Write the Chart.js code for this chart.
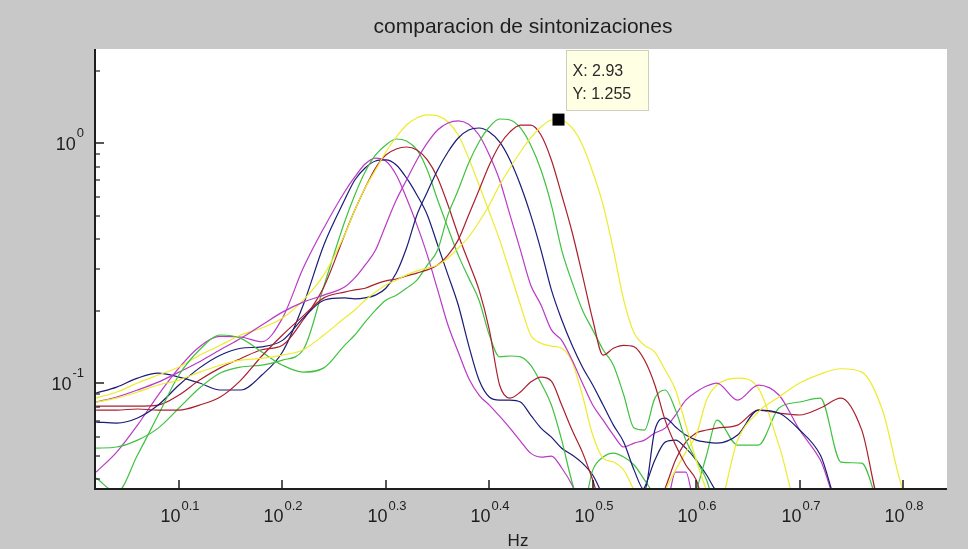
<!DOCTYPE html>
<html>
<head>
<meta charset="utf-8">
<title>comparacion de sintonizaciones</title>
<script src="https://cdn.jsdelivr.net/npm/chart.js@4.4.1/dist/chart.umd.min.js"></script>
<style>
  html, body { margin: 0; padding: 0; background: #c8c8c8; }
  #wrap { width: 968px; height: 549px; }
</style>
</head>
<body>
<div id="wrap"><canvas id="plot" width="968" height="549"></canvas></div>
<script>
// Frequency grid (Hz) shared by every response curve
const freqHz = [1.047,1.096,1.148,1.202,1.259,1.318,1.380,1.445,1.514,1.585,1.660,1.738,
  1.820,1.862,1.905,1.950,1.995,2.042,2.089,2.138,2.188,2.239,2.291,2.344,2.399,2.455,2.512,2.570,2.630,2.692,2.754,2.818,2.884,2.951,3.020,3.090,3.162,3.236,3.311,3.388,3.467,3.548,3.631,3.715,3.802,3.890,3.981,4.074,4.169,
  4.365,4.571,4.786,5.012,5.248,5.495,5.754,6.026,6.310,6.607,6.918];

// Response magnitude of each tuning (values under 0.0363 fall below the axis)
const magenta1 = [0.0427,0.0517,0.067,0.0894,0.116,0.142,0.157,0.156,0.149,0.187,0.302,0.444,
  0.627,0.724,0.82,0.868,0.844,0.738,0.592,0.457,0.342,0.245,0.175,0.135,0.105,0.0894,0.0812,0.073,0.0651,0.0575,0.0512,0.0493,0.0498,0.0444,0.0377,0.03,0.03,0.03,0.03,0.03,0.03,0.03,0.03,0.03,0.0427,0.0427,0.03,0.03,0.03,
  0.03,0.03,0.03,0.03,0.03,0.03,0.03,0.03,0.03,0.03,0.03];
const blue1 = [0.0911,0.0965,0.1052,0.1104,0.1062,0.1003,0.0938,0.0938,0.1083,0.135,0.212,0.377,
  0.58,0.703,0.789,0.844,0.852,0.812,0.717,0.609,0.503,0.377,0.283,0.212,0.144,0.1032,0.0877,0.0852,0.0852,0.0836,0.0738,0.0651,0.0597,0.0537,0.0503,0.0465,0.0415,0.0342,0.03,0.03,0.033,0.0368,0.0479,0.0569,0.058,0.0537,0.0479,0.0415,0.0352,
  0.03,0.03,0.03,0.03,0.03,0.03,0.03,0.03,0.03,0.03,0.03];
const green1 = [0.0537,0.0543,0.058,0.0651,0.0789,0.0956,0.1104,0.117,0.119,0.125,0.138,0.254,
  0.47,0.609,0.759,0.894,0.984,1.042,1.022,0.938,0.774,0.58,0.444,0.342,0.275,0.222,0.159,0.129,0.13,0.129,0.119,0.1003,0.0812,0.058,0.0388,0.03,0.0435,0.0493,0.0512,0.0493,0.0457,0.0396,0.0342,0.03,0.03,0.03,0.0359,0.0503,0.0703,
  0.0553,0.0553,0.0789,0.0836,0.0868,0.047,0.0465,0.03,0.03,0.03,0.03];
const red1 = [0.0804,0.0804,0.0804,0.0812,0.0894,0.1032,0.116,0.127,0.138,0.144,0.184,0.252,
  0.415,0.527,0.651,0.789,0.894,0.947,0.965,0.938,0.852,0.717,0.553,0.415,0.32,0.245,0.167,0.0984,0.0868,0.092,0.1012,0.1062,0.1022,0.0812,0.0639,0.0517,0.0396,0.03,0.03,0.03,0.03,0.03,0.03,0.0366,0.0479,0.0569,0.0621,0.0639,0.0651,
  0.067,0.0774,0.0752,0.0738,0.0789,0.0868,0.064,0.03,0.03,0.03,0.03];
const yellow1 = [0.0868,0.092,0.1003,0.1083,0.117,0.131,0.144,0.159,0.17,0.187,0.222,0.283,
  0.415,0.527,0.651,0.774,0.92,1.062,1.192,1.275,1.312,1.30,1.227,1.083,0.868,0.67,0.517,0.396,0.291,0.212,0.159,0.147,0.143,0.14,0.123,0.0894,0.0609,0.0488,0.047,0.0435,0.0359,0.03,0.03,0.0359,0.0435,0.0517,0.0609,0.0852,0.0984,
  0.1052,0.0956,0.0553,0.03,0.03,0.03,0.03,0.03,0.03,0.03,0.03];
const magenta2 = [0.0836,0.0877,0.0938,0.1012,0.1114,0.123,0.138,0.154,0.175,0.198,0.218,0.233,
  0.252,0.275,0.311,0.359,0.457,0.58,0.703,0.852,1.003,1.136,1.215,1.24,1.20,1.083,0.894,0.703,0.503,0.359,0.257,0.212,0.167,0.151,0.125,0.1003,0.0812,0.0703,0.0609,0.0543,0.0564,0.058,0.0621,0.0651,0.0738,0.0852,0.092,0.0975,0.1003,
  0.0852,0.0984,0.0894,0.0639,0.0479,0.03,0.03,0.03,0.03,0.03,0.03];
const blue2 = [0.069,0.0683,0.0717,0.0812,0.0984,0.116,0.131,0.14,0.142,0.151,0.187,0.222,
  0.227,0.225,0.227,0.233,0.249,0.288,0.366,0.503,0.627,0.774,0.92,1.052,1.136,1.158,1.115,1.013,0.852,0.67,0.503,0.359,0.245,0.184,0.144,0.117,0.0984,0.0812,0.067,0.0569,0.0435,0.0359,0.0639,0.0717,0.0658,0.0609,0.058,0.0569,0.0564,
  0.0609,0.0774,0.0752,0.0639,0.0503,0.03,0.03,0.03,0.03,0.03,0.03];
const green2 = [0.0403,0.0352,0.0503,0.0738,0.1083,0.138,0.159,0.154,0.135,0.119,0.1114,0.116,
  0.144,0.159,0.18,0.202,0.222,0.233,0.249,0.269,0.311,0.359,0.503,0.639,0.828,1.013,1.169,1.262,1.25,1.158,0.984,0.774,0.553,0.359,0.264,0.202,0.167,0.138,0.119,0.0894,0.0651,0.0639,0.0868,0.0938,0.0774,0.058,0.0479,0.0396,0.03,
  0.03,0.03,0.03,0.03,0.03,0.03,0.03,0.03,0.03,0.03,0.03];
const red2 = [0.0774,0.0774,0.0782,0.0774,0.0774,0.0812,0.0877,0.1032,0.13,0.159,0.191,0.227,
  0.24,0.245,0.249,0.259,0.267,0.272,0.28,0.288,0.297,0.311,0.342,0.396,0.503,0.639,0.812,0.984,1.115,1.19,1.19,1.083,0.852,0.609,0.427,0.283,0.184,0.131,0.14,0.144,0.142,0.125,0.0984,0.0703,0.0553,0.0457,0.0396,0.03,0.03,
  0.03,0.03,0.03,0.03,0.03,0.03,0.03,0.03,0.03,0.03,0.03];
const yellow2 = [0.0836,0.0868,0.092,0.0984,0.1032,0.1114,0.119,0.125,0.127,0.131,0.138,0.159,
  0.187,0.202,0.222,0.24,0.257,0.269,0.283,0.294,0.302,0.311,0.333,0.366,0.407,0.47,0.553,0.67,0.789,0.92,1.052,1.169,1.25,1.25,1.158,0.984,0.759,0.553,0.359,0.222,0.162,0.144,0.135,0.1136,0.0938,0.067,0.0479,0.0359,0.03,
  0.058,0.076,0.0877,0.1003,0.1093,0.115,0.1114,0.0774,0.0359,0.03,0.03];

// Data cursor on the yellow curve
const tipX = 2.93;
const tipY = 1.255;

// Axis ticks
const xTickExponents = ['0.1', '0.2', '0.3', '0.4', '0.5', '0.6', '0.7', '0.8'];
const yMajorTicks = [0.1, 1];
const yMajorExponents = ['-1', '0'];
const yMinorTicks = [0.04, 0.05, 0.06, 0.07, 0.08, 0.09, 0.2, 0.3, 0.4, 0.5, 0.6, 0.7, 0.8, 0.9, 2];

const titleText = 'comparacion de sintonizaciones';
const xLabelText = 'Hz';

const COLORS = {
  magenta: '#b93ac6',
  blue: '#1b1b78',
  green: '#3fc23f',
  red: '#aa1f2d',
  yellow: '#ecec2c'
};
const FONT = '"Liberation Sans", Arial, Helvetica, sans-serif';

function toPoints(values) {
  return values.map((v, i) => ({ x: freqHz[i], y: v }));
}

const yellow2Points = toPoints(yellow2);
yellow2Points.push({ x: tipX, y: tipY });
yellow2Points.sort((a, b) => a.x - b.x);

function curve(points, color) {
  return {
    data: points,
    borderColor: color,
    backgroundColor: color,
    borderWidth: 1.2,
    pointRadius: 0,
    fill: false,
    cubicInterpolationMode: 'monotone'
  };
}

function drawPower(ctx, exp, x, baseline, align, supRise) {
  ctx.font = '18px ' + FONT;
  const wb = ctx.measureText('10').width;
  ctx.font = '13px ' + FONT;
  const ws = ctx.measureText(exp).width;
  const total = wb + 1 + ws;
  const left = align === 'center' ? x - total / 2 : x - total;
  ctx.textAlign = 'left';
  ctx.textBaseline = 'alphabetic';
  ctx.font = '18px ' + FONT;
  ctx.fillText('10', left, baseline);
  ctx.font = '13px ' + FONT;
  ctx.fillText(exp, left + wb + 1, baseline - supRise);
}

const figurePlugin = {
  id: 'figure',
  beforeDraw(chart) {
    const { ctx, chartArea: a, width, height } = chart;
    ctx.save();
    ctx.fillStyle = '#c8c8c8';
    ctx.fillRect(0, 0, width, height);
    ctx.fillStyle = '#ffffff';
    ctx.fillRect(a.left, a.top, a.right - a.left, a.bottom - a.top);
    ctx.restore();
  },
  afterDraw(chart) {
    const { ctx, chartArea: a } = chart;
    const xs = chart.scales.x, ys = chart.scales.y;
    ctx.save();
    ctx.fillStyle = '#1e1e1e';
    ctx.strokeStyle = '#1e1e1e';

    // axis lines (left and bottom only)
    ctx.lineWidth = 2;
    ctx.beginPath();
    ctx.moveTo(a.left, a.top);
    ctx.lineTo(a.left, a.bottom);
    ctx.lineTo(a.right, a.bottom);
    ctx.stroke();

    // x ticks and labels
    ctx.lineWidth = 1.5;
    xTickExponents.forEach(e => {
      const px = Math.round(xs.getPixelForValue(Math.pow(10, parseFloat(e))));
      ctx.beginPath();
      ctx.moveTo(px, a.bottom);
      ctx.lineTo(px, a.bottom - 9);
      ctx.stroke();
      drawPower(ctx, e, px + 1, 522, 'center', 12);
    });

    // y ticks and labels
    yMajorTicks.forEach((v, i) => {
      const py = Math.round(ys.getPixelForValue(v));
      ctx.beginPath();
      ctx.moveTo(a.left, py);
      ctx.lineTo(a.left + 9, py);
      ctx.stroke();
      drawPower(ctx, yMajorExponents[i], 84, py + 7, 'right', 13);
    });
    ctx.lineWidth = 1.2;
    yMinorTicks.forEach(v => {
      const py = Math.round(ys.getPixelForValue(v));
      ctx.beginPath();
      ctx.moveTo(a.left, py);
      ctx.lineTo(a.left + 5, py);
      ctx.stroke();
    });

    // title and axis label
    const cx = (a.left + a.right) / 2;
    ctx.textAlign = 'center';
    ctx.textBaseline = 'alphabetic';
    ctx.font = '21px ' + FONT;
    ctx.fillText(titleText, cx + 2, 33);
    ctx.font = '17px ' + FONT;
    ctx.fillText(xLabelText, cx - 3, 546);

    // data cursor box
    const mx = xs.getPixelForValue(tipX);
    const my = ys.getPixelForValue(tipY);
    const bx = Math.round(mx + 8) + 0.5, by = Math.round(my - 70) + 0.5;
    ctx.fillStyle = '#ffffe3';
    ctx.fillRect(bx, by, 82, 60);
    ctx.strokeStyle = '#cfcfbf';
    ctx.lineWidth = 1;
    ctx.strokeRect(bx, by, 82, 60);
    ctx.fillStyle = '#2a2a2a';
    ctx.textAlign = 'left';
    ctx.font = '16px ' + FONT;
    ctx.fillText('X: ' + tipX, bx + 6, by + 25);
    ctx.fillText('Y: ' + tipY, bx + 6, by + 48);
    ctx.restore();
  }
};

new Chart(document.getElementById('plot').getContext('2d'), {
  type: 'line',
  data: {
    datasets: [
      {
        data: [{ x: tipX, y: tipY }],
        showLine: false,
        pointStyle: 'rect',
        pointRadius: 8.5,
        pointBackgroundColor: '#000000',
        pointBorderColor: '#000000',
        pointBorderWidth: 0
      },
      curve(yellow2Points, COLORS.yellow),
      curve(toPoints(red2), COLORS.red),
      curve(toPoints(green2), COLORS.green),
      curve(toPoints(blue2), COLORS.blue),
      curve(toPoints(magenta2), COLORS.magenta),
      curve(toPoints(yellow1), COLORS.yellow),
      curve(toPoints(red1), COLORS.red),
      curve(toPoints(green1), COLORS.green),
      curve(toPoints(blue1), COLORS.blue),
      curve(toPoints(magenta1), COLORS.magenta)
    ]
  },
  options: {
    responsive: false,
    animation: false,
    layout: { padding: { left: 95, top: 49, right: 21, bottom: 60 } },
    plugins: {
      legend: { display: false },
      tooltip: { enabled: false },
      title: { display: false }
    },
    scales: {
      x: { type: 'logarithmic', min: 1.0443, max: 6.957, display: false },
      y: { type: 'logarithmic', min: 0.0363, max: 2.47, display: false }
    }
  },
  plugins: [figurePlugin]
});
</script>
</body>
</html>
